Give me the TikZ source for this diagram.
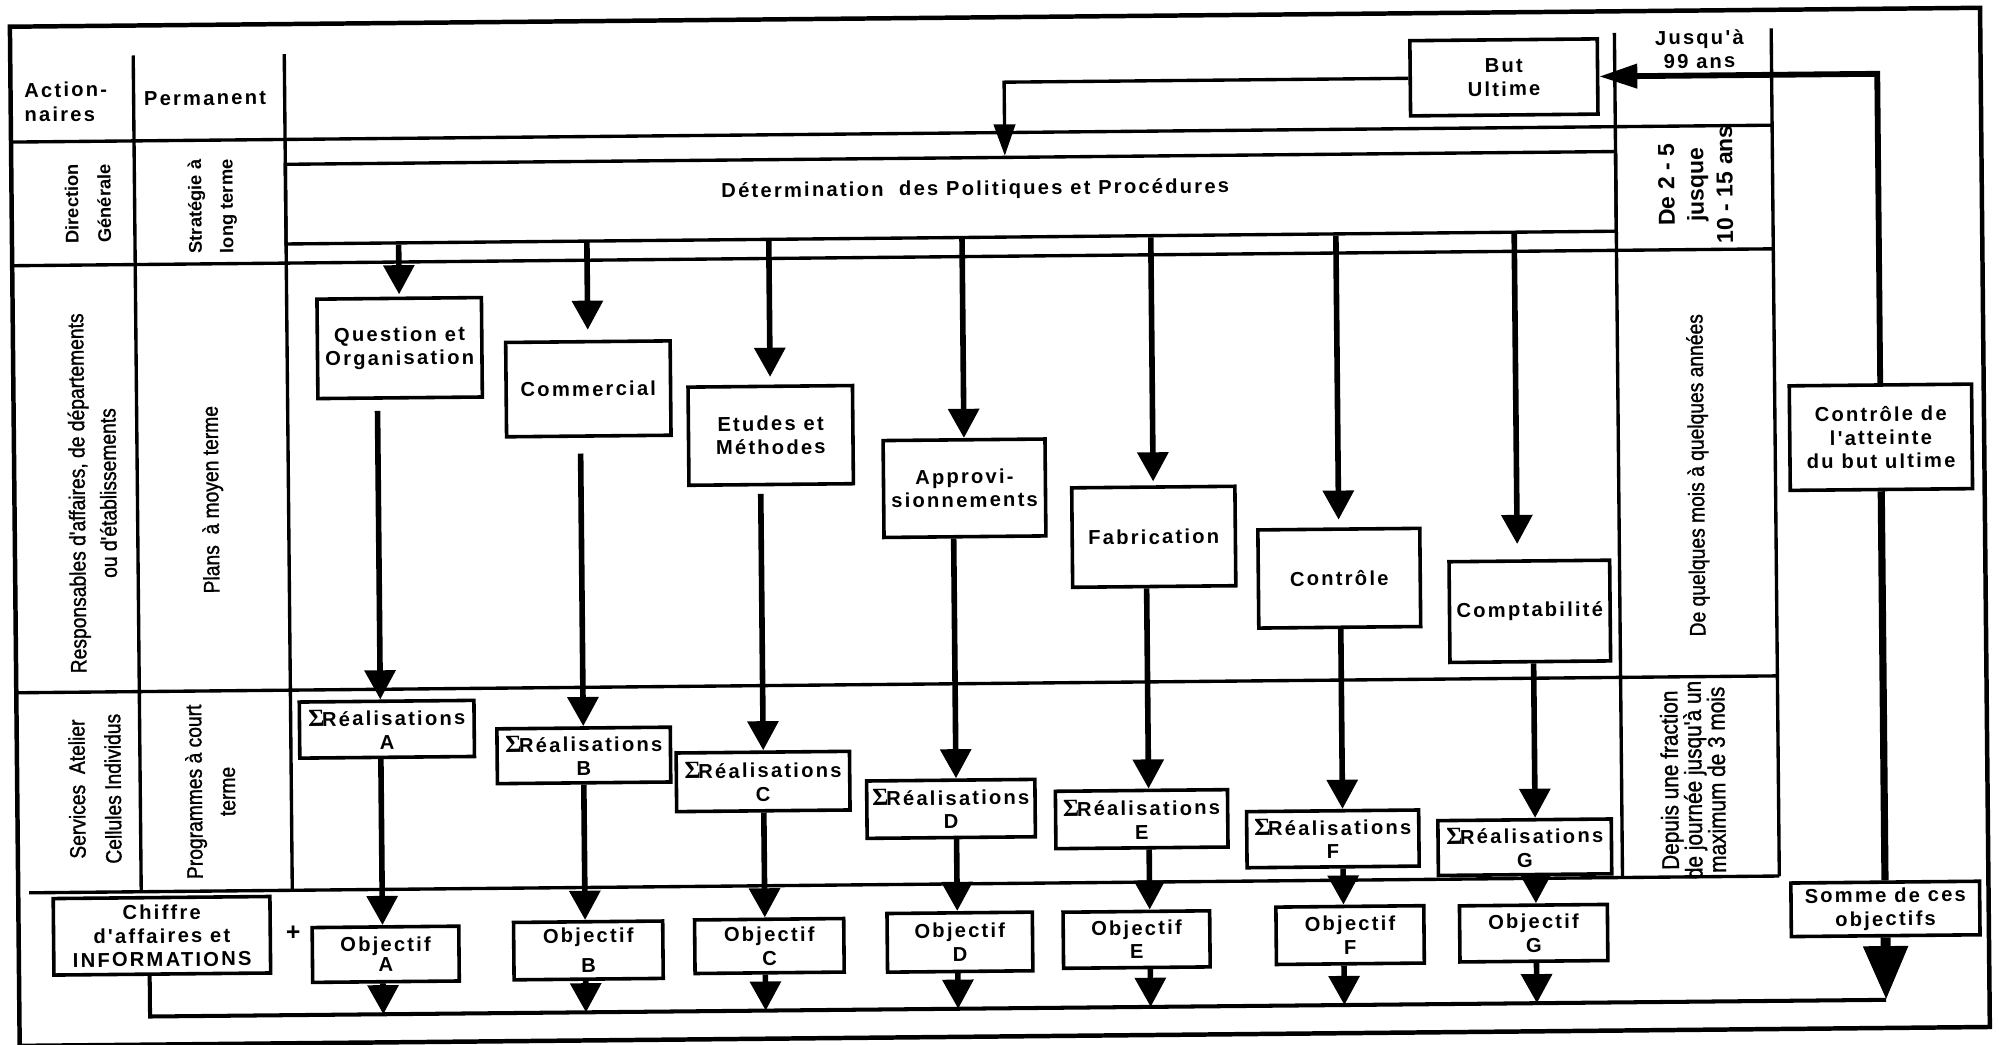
\documentclass[tikz,border=0pt]{standalone}
\usepackage{fontspec}
\setmainfont{Liberation Sans}
\newfontfamily\boxfont[LetterSpace=11]{Liberation Sans}
\newfontfamily\narrowfont[FakeStretch=0.86,FakeBold=1.2]{Liberation Sans}
\newfontfamily\sigmafont{Liberation Serif}
\usetikzlibrary{calc}
\usetikzlibrary{arrows.meta}
\tikzset{
  frm/.style={line width=2pt},
  gridline/.style={line width=1.5pt},
  bx/.style={draw, line width=1.6pt, inner sep=0pt, align=center,
    font=\boxfont\bfseries\fontsize{9}{10.5}\selectfont},
  lbl/.style={inner sep=0pt, align=center, font=\boxfont\bfseries\fontsize{9}{10.5}\selectfont},
  vlbl/.style={rotate=90, inner sep=0pt, align=center, font=\narrowfont\fontsize{10}{14}\selectfont},
  vlblb/.style={rotate=90, inner sep=0pt, align=center, font=\bfseries\fontsize{8.2}{14.5}\selectfont},
  arrstem/.style={line width=2.5pt, -{Triangle[length=13pt,width=13.5pt]}},
  sumline/.style={line width=1.8pt},
  butarr/.style={line width=1.5pt, -{Triangle[length=14pt,width=9.5pt]}},
  retline/.style={line width=3.2pt},
  retarr/.style={line width=2.6pt, -{Triangle[length=17pt,width=10.5pt]}},
  bigarr/.style={line width=4.5pt, -{Triangle[length=24pt,width=19pt]}}
}
\newcommand{\sig}{{\sigmafont\fontsize{11}{10.5}\selectfont Σ}\kern-1pt}
\newcommand{\boxnode}[6]{\node[bx, minimum width=#4*0.02cm, minimum height=#5*0.02cm] (#1) at (#2,#3) {#6};}
\newcommand{\stemarrow}[4][]{\draw[arrstem,#1] ($(#2.south west)!(#4)!(#2.south east)$) -- ($(#3.north west)!(#4)!(#3.north east)$);}
\newcommand{\droparrow}[2]{\draw[arrstem] ($(#1.south west)!(#2)!(#1.south east)$) -- ($(sumL)!(#2)!(sumR)$);}

\begin{document}
\begin{tikzpicture}[x=0.02cm,y=-0.02cm]
\useasboundingbox (0,0) rectangle (1568,819);
\begin{scope}[rotate around={0.55:(784,410)},transform shape]
        % frame
        \draw[frm] (11.5,13.5) rectangle (1557,813);

        % columns
        \draw[gridline] (108,37) -- (108,693);
        \draw[gridline] (226.5,37) -- (226.5,693);
        \draw[gridline] (1270,30.5) -- (1270,693);
        \draw[gridline] (1393,28) -- (1393,693);

        % rows
        \draw[gridline] (11.5,104) -- (1393,104);
        \draw[gridline] (11.5,201) -- (1393,201);
        \draw[gridline] (11.5,536) -- (1393,536);
        \draw[gridline] (20,693) -- (1393,693);

        % left headings
        \node[lbl, anchor=west, align=left, font=\boxfont\bfseries\fontsize{9}{11}\selectfont] (act) at (22,73) {Action-\\naires};
        \node[lbl] (perm) at (164,71) {Permanent};
        \node[vlblb] (dg) at (71.4,153) {Direction\\Générale};
        \node[vlblb, font=\bfseries\fontsize{8.2}{14}\selectfont] (slt) at (169,156) {Stratégie à\\long terme};
        \node[vlbl] (resp) at (72.7,380) {Responsables d'affaires, de départements\\ou d'établissements};
        \node[vlbl] (pmt) at (167,386) {Plans~ à moyen terme};
        \node[vlbl, font=\narrowfont\fontsize{10}{16}\selectfont] (serv) at (72.5,612) {Services~ Atelier\\Cellules Individus};
        \node[vlbl, font=\narrowfont\fontsize{10}{14.8}\selectfont] (pct) at (163,615) {Programmes à court\\terme};

        % right headings
        \node[lbl] (jus) at (1336.6,43.8) {Jusqu'à\\99 ans};
        \node[vlblb, font=\bfseries\fontsize{10.3}{13}\selectfont] (d25) at (1332.5,150) {De 2 - 5\\jusque\\10 - 15 ans};
        \node[vlbl] (dqm) at (1332.3,378) {De quelques mois à quelques années};
        \node[vlbl, font=\narrowfont\fontsize{10.8}{10.5}\selectfont] (dpu) at (1326,617) {Depuis une fraction\\de journée jusqu'à un\\maximum de 3 mois};

        % but ultime and policies
        \boxnode{but}{1183}{64.5}{147}{59}{But\\Ultime}
        \node[draw, gridline, inner sep=0pt, minimum width=1043.5*0.02cm, minimum height=62.5*0.02cm] (det) at (748.25,154.75) {};
        \node[lbl] (dett) at (767.5,148.8) {Détermination~ des Politiques et Procédures};

        % departments
        \boxnode{qo}{314.8}{268.5}{129}{78}{Question et\\Organisation}
        \boxnode{com}{462.5}{301.9}{129}{74}{Commercial}
        \boxnode{etm}{605.2}{339.8}{129}{77}{Etudes et\\Méthodes}
        \boxnode{app}{756.8}{382.7}{127}{76}{Approvi-\\sionnements}
        \boxnode{fab}{904.9}{422.2}{128}{78}{Fabrication}
        \boxnode{ctr}{1050.1}{456.1}{127}{77}{Contrôle}
        \boxnode{cpt}{1199.3}{483.5}{126}{79}{Comptabilité}

        % realisations
        \boxnode{rA}{301.9}{567.4}{137}{44}{\sig Réalisations\\A}
        \boxnode{rB}{456.2}{589.4}{136}{43}{\sig Réalisations\\B}
        \boxnode{rC}{596.6}{611.2}{136}{46}{\sig Réalisations\\C}
        \boxnode{rD}{743.8}{634.1}{132}{45}{\sig Réalisations\\D}
        \boxnode{rE}{893.3}{643.6}{135}{45}{\sig Réalisations\\E}
        \boxnode{rF}{1043.1}{660.5}{135}{44}{\sig Réalisations\\F}
        \boxnode{rG}{1193.6}{668.5}{136}{43}{\sig Réalisations\\G}

        % objectives
        \boxnode{oA}{299.3}{743.9}{115}{43}{Objectif\\[-1.5pt]A}
        \boxnode{oB}{458.3}{742.4}{117}{45}{Objectif\\[3pt]B}
        \boxnode{oC}{600.3}{740.3}{117}{42}{Objectif\\C}
        \boxnode{oD}{749.8}{738.7}{114}{46}{Objectif\\D}
        \boxnode{oE}{888.4}{738}{115}{44}{Objectif\\E}
        \boxnode{oF}{1055.9}{736.1}{116}{45}{Objectif\\F}
        \boxnode{oG}{1199.9}{736}{116}{44}{Objectif\\G}

        % bottom left and right
        \boxnode{chf}{123.9}{727.7}{170}{60}{Chiffre\\d'affaires et\\INFORMATIONS}
        \node[lbl, font=\bfseries\fontsize{11}{11}\selectfont] (plus) at (226.9,726.7) {+};
        \boxnode{ctl}{1476}{349.6}{143}{82}{Contrôle de\\l'atteinte\\du but ultime}
        \boxnode{som}{1476}{719.6}{148}{42}{Somme de ces\\objectifs}

        % columns of the arrows
        \coordinate (sA) at (297,600);
        \coordinate (sB) at (456,600);
        \coordinate (sC) at (597,600);
        \coordinate (sD) at (748,600);
        \coordinate (sE) at (899,600);
        \coordinate (sF) at (1051,600);
        \coordinate (sG) at (1202,600);
        \coordinate (tG) at (1190,400);
        \coordinate (sumL) at (114,791);
        \coordinate (sumR) at (1476,791);
        \coordinate (cr) at (1476,64.5);
        \coordinate (bl) at (791,64.5);

        % but ultime down to the policies
        \draw[butarr] (but.west) -- (bl) -- ($(det.north west)!(bl)!(det.north east)$);

        % policies to departments
        \stemarrow[shorten >=1pt]{det}{qo}{qo}
        \stemarrow[shorten >=4.5pt]{det}{com}{com}
        \stemarrow[shorten >=3.4pt]{det}{etm}{etm}
        \stemarrow{det}{app}{app}
        \stemarrow[shorten >=1.7pt]{det}{fab}{fab}
        \stemarrow[shorten >=3.4pt]{det}{ctr}{ctr}
        \stemarrow[shorten >=6.8pt]{det}{cpt}{tG}

        % departments to realisations
        \stemarrow[shorten <=5pt]{qo}{rA}{sA}
        \stemarrow[shorten <=7pt]{com}{rB}{sB}
        \stemarrow[shorten <=3.4pt]{etm}{rC}{sC}
        \stemarrow{app}{rD}{sD}
        \stemarrow{fab}{rE}{sE}
        \stemarrow{ctr}{rF}{sF}
        \stemarrow{cpt}{rG}{sG}

        % realisations to objectives
        \stemarrow{rA}{oA}{sA}
        \stemarrow{rB}{oB}{sB}
        \stemarrow{rC}{oC}{sC}
        \stemarrow{rD}{oD}{sD}
        \stemarrow{rE}{oE}{sE}
        \stemarrow{rF}{oF}{sF}
        \stemarrow{rG}{oG}{sG}

        % objectives to the sum
        \droparrow{oA}{sA}
        \droparrow{oB}{sB}
        \droparrow{oC}{sC}
        \droparrow{oD}{sD}
        \droparrow{oE}{sE}
        \droparrow{oF}{sF}
        \droparrow{oG}{sG}

        % sum line and control of the goal
        \draw[sumline] ($(chf.south west)!(sumL)!(chf.south east)$) -- (sumL) -- (sumR);
        \draw[bigarr] (som.south) -- ($(sumL)!(som.south)!(sumR)$);
        \draw[retline] (ctl.south) -- (som.north);
        \draw[retarr] (ctl.north) -- (cr) -- (but.east);
\end{scope}
\end{tikzpicture}
\end{document}
